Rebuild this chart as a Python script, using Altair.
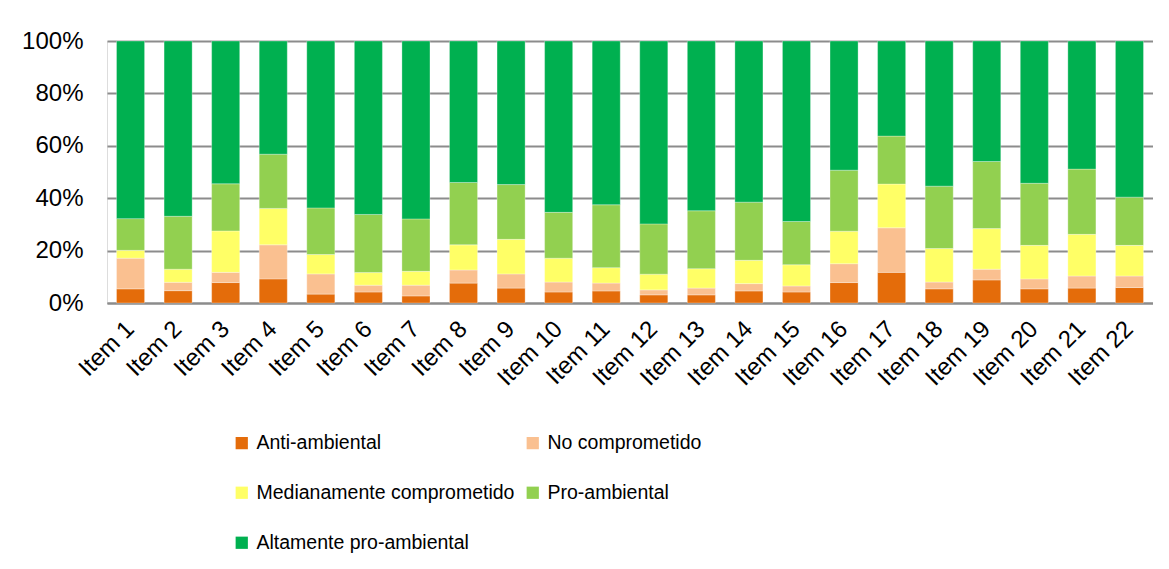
import altair as alt
import pandas as pd

items = [f"Item {i}" for i in range(1, 23)]
categories = ["Anti-ambiental", "No comprometido", "Medianamente comprometido",
              "Pro-ambiental", "Altamente pro-ambiental"]
colors = ["#E46C0A", "#FAC090", "#FFFF66", "#92D050", "#00B050"]

anti = [5.4, 4.7, 7.8, 9.2, 3.4, 4.2, 2.7, 7.6, 5.7, 4.2, 4.6, 3.1, 3.1, 4.6, 4.2, 7.8, 11.7, 5.4, 8.8, 5.4, 5.7, 5.9]
no_comp = [11.7, 3.2, 3.9, 13.0, 7.7, 2.6, 4.1, 5.0, 5.4, 3.8, 3.0, 1.9, 2.6, 2.8, 2.3, 7.2, 17.0, 2.6, 4.1, 3.8, 4.6, 4.4]
mediana = [3.0, 5.0, 15.8, 13.9, 7.4, 4.8, 5.3, 9.6, 13.2, 9.1, 5.9, 6.0, 7.4, 8.9, 8.1, 12.4, 16.7, 12.8, 15.5, 12.8, 15.9, 11.7]
pro = [12.1, 20.2, 18.0, 20.7, 17.8, 22.2, 20.0, 23.8, 20.9, 17.5, 24.0, 19.2, 22.1, 22.2, 16.5, 23.3, 18.3, 23.8, 25.6, 23.7, 24.9, 18.4]
alta = [67.8, 66.9, 54.5, 43.2, 63.7, 66.2, 67.9, 54.0, 54.8, 65.4, 62.5, 69.8, 64.8, 61.5, 68.9, 49.3, 36.3, 55.4, 46.0, 54.3, 48.9, 59.6]

series = [anti, no_comp, mediana, pro, alta]
rows = []
for k, (cat, vals) in enumerate(zip(categories, series)):
    for item, v in zip(items, vals):
        rows.append({"item": item, "cat": cat, "value": v, "order": k})
df = pd.DataFrame(rows)

FONT = "Liberation Sans"

chart = alt.Chart(df).mark_bar(
    stroke="#FFFFFF", strokeWidth=0.6, strokeOpacity=0.5
).encode(
    x=alt.X("item:N", sort=items, title=None,
            scale=alt.Scale(paddingInner=0.41, paddingOuter=0.2),
            axis=alt.Axis(labelAngle=-45, labelAlign="right", labelBaseline="middle",
                          labelFontSize=24, labelPadding=22, ticks=False,
                          domainColor="#8C8C8C", domainWidth=2)),
    y=alt.Y("value:Q", stack="normalize", title=None,
            scale=alt.Scale(domain=[0, 1]),
            axis=alt.Axis(format=".0%", values=[0, 0.2, 0.4, 0.6, 0.8, 1.0],
                          labelFontSize=24, labelPadding=24, ticks=False, domain=False,
                          gridColor="#8C8C8C", gridWidth=2)),
    color=alt.Color("cat:N", sort=categories,
                    scale=alt.Scale(domain=categories, range=colors),
                    legend=alt.Legend(title=None, orient="none", legendX=125, legendY=392,
                                      direction="horizontal",
                                      columns=2, columnPadding=8, rowPadding=29,
                                      symbolType="square", symbolSize=150,
                                      symbolStrokeWidth=0, labelFontSize=19.5,
                                      labelOffset=5, labelLimit=400)),
    order=alt.Order("order:Q", sort="ascending"),
).properties(
    width=1046, height=262,
    autosize=alt.AutoSizeParams(type="none"),
    padding={"left": 99, "top": 33, "right": 0, "bottom": 250},
).configure_view(
    fill="#EFF1E9", stroke=None
).configure(
    font=FONT
).configure_axis(
    labelColor="#000000", labelFont=FONT
).configure_legend(
    labelColor="#000000", labelFont=FONT
)

chart.save("out.html", embed_options={"renderer": "svg", "actions": False})
